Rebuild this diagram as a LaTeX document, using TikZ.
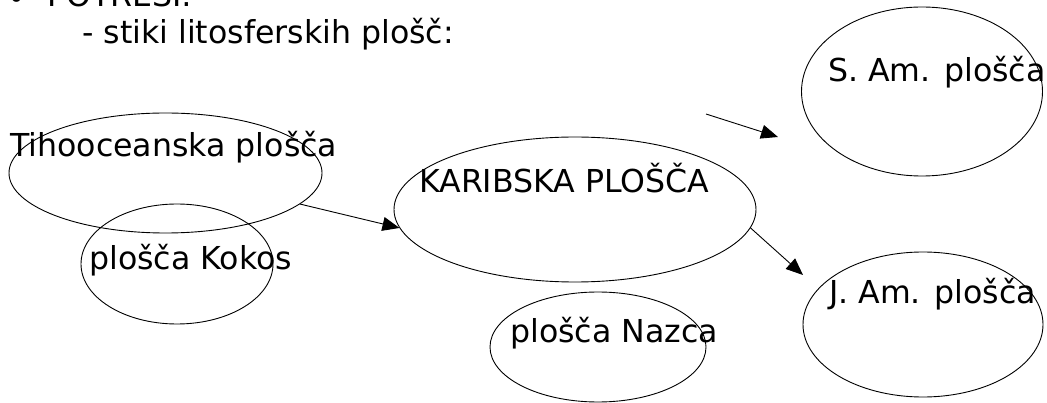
\documentclass[tikz,border=0pt]{standalone}
\usepackage{fontspec}
\setmainfont{DejaVu Sans}
\usetikzlibrary{arrows.meta,shapes.geometric}

\begin{document}
\begin{tikzpicture}[x=1pt,y=-1pt,>={Triangle[length=17pt,width=14pt]},
  plate/.style={draw,ellipse,inner sep=0pt,line width=0.9pt},
  lbl/.style={anchor=base west,inner sep=0pt,font=\fontsize{31.6}{38}\selectfont},
  link/.style={->,line width=0.9pt}]
  \useasboundingbox (0,0) rectangle (1047,403);
  % Heading lines (partly cut at the top)
  \node[lbl] (bul) at (7,10) {\textbullet};
  \node[lbl] (potresi) at (47,7) {POTRESI:};
  \node[lbl] (stiki) at (82,44) {- stiki litosferskih plošč:};
  % Plates (outlines)
  \node[plate,minimum width=313pt,minimum height=120pt] (tiho) at (165.5,173) {};
  \node[plate,minimum width=192pt,minimum height=120pt] (kokos) at (177,264) {};
  \node[plate,minimum width=362pt,minimum height=145pt] (karib) at (575,209.5) {};
  \node[plate,minimum width=216pt,minimum height=110pt] (nazca) at (598,347) {};
  \node[plate,minimum width=241pt,minimum height=169pt] (sam) at (922,91.5) {};
  \node[plate,minimum width=240pt,minimum height=145pt] (jam) at (923,324.5) {};
  % Plate names
  \node[lbl] (tihoT) at (10,157) {Tihooceanska plošča};
  \node[lbl] (kokosT) at (89,270) {plošča Kokos};
  \node[lbl] (karibT) at (419,193) {KARIBSKA PLOŠČA};
  \node[lbl] (nazcaT) at (510,343) {plošča Nazca};
  \node[lbl] (samT) at (828,82) {S. Am. plošča};
  \node[lbl] (jamT) at (829,304) {J. Am. plošča};
  % Arrows
  \coordinate (samTail) at (706,114);
  \coordinate (samTip) at (778,137);
  \coordinate (jamTip) at (803,275);
  \draw[link] (samTail) -- (samTip);
  \draw[link] (tiho.-13) -- (karib.186);
  \draw[link] (karib.-6) -- (jamTip);
\end{tikzpicture}
\end{document}
